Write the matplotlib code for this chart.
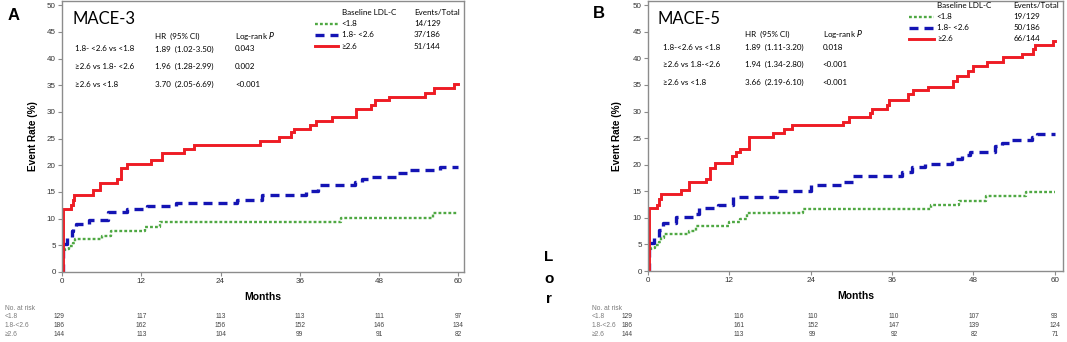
import numpy as np
import matplotlib
matplotlib.use('Agg')
import matplotlib.pyplot as plt
from matplotlib.transforms import blended_transform_factory

# ── Data ─────────────────────────────────────────────────────────────────────
END = 60
MONTH_TICKS = [0, 12, 24, 36, 48, 60]
GROUPS = ["<1.8", "1.8- <2.6", "\u22652.6"]
RISK_ROWS = ["<1.8", "1.8-<2.6", "\u22652.6"]

# Panel A: MACE-3
a_green_t = [0, 0.5, 1.0, 1.7, 2.0, 6.0, 7.4, 12.5, 14.8, 42.2, 56.2]
a_green_y = [3.6, 4.3, 4.8, 5.5, 6.1, 6.8, 7.7, 8.5, 9.3, 10.2, 11.0]
a_blue_t = [0, 0.2, 0.8, 1.5, 1.7, 2.1, 4.1, 7.0, 9.9, 12.9, 17.3, 26.5, 30.2,
            37.0, 38.8, 44.3, 45.4, 46.6, 50.9, 52.3, 57.2]
a_blue_y = [0, 5.2, 6.5, 7.6, 8.0, 9.0, 9.7, 11.2, 11.8, 12.4, 12.9, 13.5, 14.5,
            15.2, 16.3, 16.9, 17.5, 17.9, 18.6, 19.1, 19.6]
a_red_t = [0, 0.1, 0.2, 1.4, 1.6, 1.8, 4.7, 5.8, 8.4, 9.0, 9.8, 13.4, 15.1, 18.4,
           20.0, 29.9, 32.8, 34.6, 35.1, 37.6, 38.5, 40.9, 44.5, 46.8, 47.4,
           49.5, 55.0, 56.3, 59.3]
a_red_y = [0, 8.0, 11.8, 12.5, 13.5, 14.5, 15.3, 16.7, 17.4, 19.5, 20.3, 21.0,
           22.3, 23.1, 23.8, 24.5, 25.4, 26.2, 26.8, 27.6, 28.3, 29.1, 30.5,
           31.3, 32.2, 32.8, 33.5, 34.4, 35.2]
a_events = ["14/129", "37/186", "51/144"]
a_compare = ["1.8- <2.6 vs <1.8", "\u22652.6 vs 1.8- <2.6", "\u22652.6 vs <1.8"]
a_hr = ["1.89  (1.02-3.50)", "1.96  (1.28-2.99)", "3.70  (2.05-6.69)"]
a_p = ["0.043", "0.002", "<0.001"]
a_risk = [[129, 117, 113, 113, 111, 97],
          [186, 162, 156, 152, 146, 134],
          [144, 113, 104, 99, 91, 82]]

# Panel B: MACE-5
b_green_t = [0, 0.5, 1.0, 1.6, 1.9, 2.3, 6.0, 7.1, 12.0, 13.5, 14.6, 22.9,
             41.7, 45.9, 49.8, 55.8]
b_green_y = [3.6, 4.3, 4.8, 5.5, 6.2, 6.9, 7.6, 8.4, 9.2, 9.8, 10.9, 11.7,
             12.5, 13.2, 14.1, 14.8]
b_blue_t = [0, 0.2, 0.9, 1.6, 2.2, 4.2, 7.0, 7.5, 10.3, 12.6, 19.0, 24.0, 28.7,
            30.3, 37.4, 38.9, 40.9, 44.8, 46.3, 47.5, 51.2, 52.2, 53.6, 56.6,
            57.3]
b_blue_y = [0, 5.3, 6.4, 7.8, 9.0, 10.2, 10.8, 11.9, 12.5, 14.0, 15.0, 16.1,
            16.8, 17.9, 18.6, 19.5, 20.2, 21.1, 21.9, 22.4, 23.5, 24.1, 24.7,
            25.3, 25.7]
b_red_t = [0, 0.1, 0.2, 1.4, 1.6, 1.9, 4.9, 6.1, 8.6, 9.1, 9.9, 12.4, 13.0,
           13.5, 14.9, 18.5, 20.0, 21.2, 28.8, 29.7, 32.7, 33.1, 35.3, 35.6,
           38.4, 39.1, 41.3, 45.0, 45.5, 47.2, 48.0, 50.0, 52.4, 55.1, 56.8,
           57.1, 59.7]
b_red_y = [0, 8.0, 11.8, 12.5, 13.5, 14.5, 15.3, 16.7, 17.4, 19.4, 20.3, 21.6,
           22.3, 23.0, 25.2, 25.9, 26.7, 27.4, 28.1, 28.9, 29.7, 30.4, 31.2,
           32.2, 33.3, 34.1, 34.7, 35.8, 36.6, 37.7, 38.6, 39.4, 40.2, 40.9,
           41.8, 42.6, 43.2]
b_events = ["19/129", "50/186", "66/144"]
b_compare = ["1.8-<2.6 vs <1.8", "\u22652.6 vs 1.8-<2.6", "\u22652.6 vs <1.8"]
b_hr = ["1.89  (1.11-3.20)", "1.94  (1.34-2.80)", "3.66  (2.19-6.10)"]
b_p = ["0.018", "<0.001", "<0.001"]
b_risk = [[129, 116, 110, 110, 107, 93],
          [186, 161, 152, 147, 139, 124],
          [144, 113, 99, 92, 82, 71]]

# ── Styles ───────────────────────────────────────────────────────────────────
GREEN, BLUE, RED = "#4FA843", "#1414B4", "#EE1C24"
STYLES = [
    dict(color=GREEN, lw=1.7, dashes=(1.2, 0.9)),
    dict(color=BLUE, lw=2.4, dashes=(2.7, 1.8)),
    dict(color=RED, lw=2.1, linestyle="-"),
]
SANS = "Liberation Sans"
TXT = "Lato"
GRAY = "#7a7a7a"

fig = plt.figure(figsize=(10.67, 3.42), dpi=100)
W, H = 1067, 342


def px_axes(left, right, top, bottom):
    return fig.add_axes([left / W, 1 - bottom / H, (right - left) / W, (bottom - top) / H])


def draw_panel(ax, curves, title, compare, hr, pvals, events, risk, xmax,
               lay, risk_lbl_x, risk_shift):
    for (t, y), st in zip(curves, STYLES):
        ax.step(list(t) + [END], list(y) + [y[-1]], where="post",
                solid_joinstyle="miter", **st)
    ax.set_xlim(0, xmax)
    ax.set_ylim(0, 50.8)
    ax.set_xticks(MONTH_TICKS)
    ax.set_yticks(np.arange(0, 51, 5))
    for s in ax.spines.values():
        s.set_color("#8c8c8c")
        s.set_linewidth(1.0)
    ax.tick_params(direction="out", length=3, width=0.8, color="#8c8c8c",
                   labelsize=5.8, labelcolor="#333333", pad=1.5)
    for lab in ax.get_xticklabels() + ax.get_yticklabels():
        lab.set_fontfamily(SANS)
    ax.set_xlabel("Months", fontsize=7.5, fontweight="bold", family=SANS, labelpad=5)
    ax.set_ylabel("Event Rate (%)", fontsize=7.2, fontweight="bold", family=SANS,
                  labelpad=lay["ylpad"])

    tr = ax.transAxes
    ax.text(lay["title_x"], 0.934, title, transform=tr, fontsize=12, family=TXT,
            va="center", ha="left")
    ax.text(lay["hr_x"], lay["hdr_y"], "HR  (95% CI)", transform=tr, fontsize=5.8,
            family=TXT, va="center")
    ax.text(lay["p_x"], lay["hdr_y"], "Log-rank $\\it{P}$", transform=tr,
            fontsize=5.8, family=TXT, va="center")
    for i in range(3):
        ax.text(lay["cmp_x"], lay["rows_y"][i], compare[i], transform=tr,
                fontsize=5.8, family=[TXT, "DejaVu Sans"], va="center")
        ax.text(lay["hr_x"], lay["rows_y"][i], hr[i], transform=tr, fontsize=5.8,
                family=TXT, va="center")
        ax.text(lay["p_x"], lay["rows_y"][i], pvals[i], transform=tr, fontsize=5.8,
                family=TXT, va="center")

    # legend block
    ax.text(0.696, lay["leg_hdr_y"], "Baseline LDL-C", transform=tr, fontsize=5.8,
            family=TXT, va="center")
    ax.text(lay["ev_x"], lay["leg_hdr_y"], "Events/Total", transform=tr,
            fontsize=5.8, family=TXT, va="center")
    for i, st in enumerate(STYLES):
        yy = lay["leg_y"][i]
        ax.plot([0.630, 0.688], [yy, yy], transform=tr, clip_on=False, **st)
        ax.text(0.696, yy, GROUPS[i], transform=tr, fontsize=5.8,
                family=[TXT, "DejaVu Sans"], va="center")
        ax.text(lay["ev_x"], yy, events[i], transform=tr, fontsize=5.8,
                family=TXT, va="center")

    # number at risk table
    bt = blended_transform_factory(ax.transData, fig.transFigure)
    fig.text(risk_lbl_x / W, 1 - 308 / H, "No. at risk", fontsize=4.8,
             family=SANS, color=GRAY, va="center")
    for r, row in enumerate(risk):
        yf = 1 - (317 + 8.7 * r) / H
        fig.text(risk_lbl_x / W, yf, RISK_ROWS[r], fontsize=4.8,
                 family=[SANS, "DejaVu Sans"], color=GRAY, va="center")
        for c, n in enumerate(row):
            ax.text(MONTH_TICKS[c] + risk_shift[c], yf, str(n), transform=bt,
                    fontsize=4.8, family=SANS, color="#444444", ha="center",
                    va="center", clip_on=False)


ax_a = px_axes(62, 463.7, 1, 272)
ax_b = px_axes(648, 1063, 1, 271)

draw_panel(ax_a, [(a_green_t, a_green_y), (a_blue_t, a_blue_y), (a_red_t, a_red_y)],
           "MACE-3", a_compare, a_hr, a_p, a_events, a_risk, 60.8,
           dict(title_x=0.025, hr_x=0.2316, p_x=0.4307, cmp_x=0.032, hdr_y=0.871,
                rows_y=[0.823, 0.758, 0.693], leg_hdr_y=0.957, ev_x=0.876,
                leg_y=[0.916, 0.876, 0.833], ylpad=6),
           5, [-0.4, 0, 0, 0, 0, 0])
draw_panel(ax_b, [(b_green_t, b_green_y), (b_blue_t, b_blue_y), (b_red_t, b_red_y)],
           "MACE-5", b_compare, b_hr, b_p, b_events, b_risk, 61.2,
           dict(title_x=0.022, hr_x=0.234, p_x=0.421, cmp_x=0.036, hdr_y=0.878,
                rows_y=[0.828, 0.764, 0.699], leg_hdr_y=0.982, ev_x=0.880,
                leg_y=[0.941, 0.900, 0.860], ylpad=8),
           592, [-3.1, 1.4, 0.3, 0.3, 0.1, 0])

# panel letters and stray characters
fig.text(8 / W, 1 - 15 / H, "A", fontsize=12, fontweight="bold", family=SANS,
         va="center", ha="left")
fig.text(593 / W, 1 - 14 / H, "B", fontsize=12, fontweight="bold", family=SANS,
         va="center", ha="left")
for ch, py in [("L", 257), ("o", 279), ("r", 299)]:
    fig.text(549 / W, 1 - py / H, ch, fontsize=11, fontweight="bold", family=SANS,
             va="center", ha="center")

fig.savefig("out.png", dpi=100)
